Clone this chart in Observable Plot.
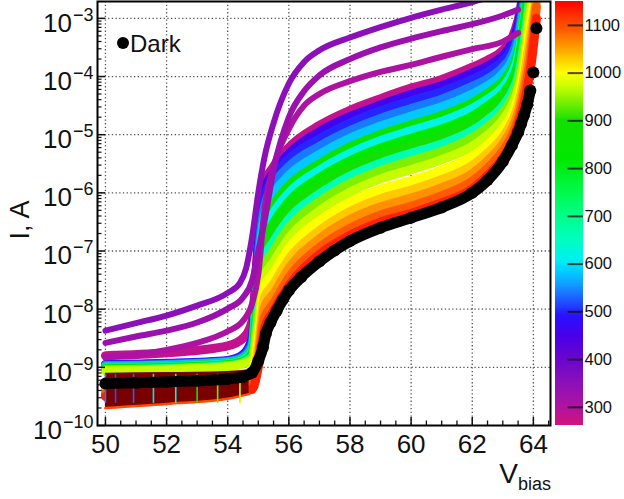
<!DOCTYPE html>
<html><head><meta charset="utf-8">
<script src="https://cdn.jsdelivr.net/npm/d3@7"></script>
<script src="https://cdn.jsdelivr.net/npm/@observablehq/plot@0.6"></script>
<style>
body{margin:0;background:#fff;}
#wrap{position:relative;width:624px;height:499px;overflow:hidden;background:#fff;font-family:"Liberation Sans",Arial,sans-serif;}
#wrap svg{position:absolute;top:0;}
</style></head><body><div id="wrap"></div>
<script>
// ---- axes / ticks ----
const xTicks = [50, 52, 54, 56, 58, 60, 62, 64];
const yTicks = [1e-10, 1e-9, 1e-8, 1e-7, 1e-6, 1e-5, 1e-4, 1e-3];
const colorTicks = [300, 400, 500, 600, 700, 800, 900, 1000, 1100];

// ---- wavelength palette (nm -> colour) ----
const paletteWl  = [262, 300, 350, 400, 450, 490, 520, 550, 585, 610, 650, 700, 760, 820, 900, 940, 975, 1000, 1030, 1060, 1090, 1120, 1150];
const paletteHex = ["#d4127c","#b0139f","#8c10b8","#6a06cc","#4800e8","#2a10ff","#2050ff","#1490ff","#00d0ff","#00f0f0","#00ffc0","#00ff88","#00f840","#00e800","#14e000","#80f000","#d0ff00","#ffff00","#ffc800","#ff9000","#ff5a00","#ff3000","#ff0000"];

// ---- illuminated curves: log10(I / A) at common bias voltages ----
const bandV = [50, 52, 54, 54.5, 54.8, 55.0, 55.2, 55.5, 56, 57, 58, 59, 60, 61, 62, 62.5, 63, 63.3, 63.5, 63.7, 63.9, 64.1];
const logI280  = [-8.80,-8.75,-8.63,-8.50,-8.20,-6.80,-5.85,-5.55,-5.22,-4.84,-4.58,-4.38,-4.20,-4.05,-3.84,-3.72,-3.55,-3.34,-3.03,-2.50,-2.30,-2.20];
const logI460  = [-8.95,-8.93,-8.88,-8.78,-8.50,-6.90,-5.97,-5.65,-5.33,-4.95,-4.69,-4.49,-4.31,-4.16,-3.94,-3.82,-3.64,-3.43,-3.12,-2.55,-2.30,-2.20];
const logI500  = [-8.96,-8.94,-8.89,-8.80,-8.55,-7.00,-6.10,-5.74,-5.42,-5.07,-4.80,-4.59,-4.42,-4.26,-4.05,-3.92,-3.73,-3.52,-3.22,-2.60,-2.30,-2.20];
const logI540  = [-8.97,-8.95,-8.90,-8.82,-8.60,-7.10,-6.25,-5.87,-5.55,-5.20,-4.93,-4.72,-4.55,-4.39,-4.17,-4.04,-3.84,-3.63,-3.33,-2.70,-2.30,-2.20];
const logI580  = [-8.98,-8.96,-8.91,-8.84,-8.65,-7.25,-6.40,-6.03,-5.70,-5.34,-5.06,-4.85,-4.68,-4.52,-4.30,-4.16,-3.95,-3.73,-3.44,-2.80,-2.30,-2.20];
const logI860  = [-9.00,-8.98,-8.93,-8.86,-8.70,-7.40,-6.58,-6.22,-5.88,-5.50,-5.21,-5.00,-4.83,-4.67,-4.45,-4.29,-4.08,-3.86,-3.57,-2.90,-2.30,-2.20];
const logI620  = [-9.01,-8.99,-8.94,-8.88,-8.73,-7.55,-6.70,-6.35,-6.00,-5.61,-5.32,-5.10,-4.93,-4.77,-4.55,-4.39,-4.18,-3.95,-3.66,-3.00,-2.30,-2.20];
const logI820  = [-9.02,-9.00,-8.95,-8.90,-8.76,-7.70,-6.85,-6.52,-6.15,-5.74,-5.45,-5.23,-5.06,-4.90,-4.68,-4.51,-4.29,-4.06,-3.78,-3.10,-2.30,-2.20];
const logI900  = [-9.03,-9.01,-8.96,-8.91,-8.79,-7.85,-7.00,-6.68,-6.30,-5.88,-5.58,-5.36,-5.19,-5.03,-4.80,-4.63,-4.40,-4.16,-3.89,-3.25,-2.50,-2.20];
const logI660  = [-9.04,-9.02,-8.97,-8.92,-8.82,-8.00,-7.15,-6.84,-6.45,-6.02,-5.71,-5.49,-5.32,-5.16,-4.93,-4.75,-4.51,-4.27,-4.00,-3.40,-2.60,-2.20];
const logI940  = [-9.05,-9.03,-8.98,-8.93,-8.85,-8.15,-7.30,-7.00,-6.60,-6.15,-5.84,-5.62,-5.45,-5.29,-5.05,-4.87,-4.62,-4.38,-4.10,-3.55,-2.70,-2.20];
const logI970  = [-9.06,-9.04,-8.99,-8.94,-8.88,-8.30,-7.45,-7.19,-6.78,-6.31,-5.99,-5.76,-5.60,-5.43,-5.20,-5.01,-4.75,-4.50,-4.23,-3.70,-2.90,-2.40];
const logI1000 = [-9.30,-9.26,-9.20,-9.15,-9.05,-8.50,-7.62,-7.38,-6.95,-6.48,-6.16,-5.94,-5.79,-5.61,-5.37,-5.18,-4.90,-4.65,-4.37,-3.85,-3.10,-2.50];
const logI1030 = [-9.36,-9.33,-9.30,-9.25,-9.15,-8.65,-7.80,-7.57,-7.14,-6.65,-6.32,-6.10,-5.95,-5.77,-5.53,-5.32,-5.04,-4.78,-4.50,-4.00,-3.30,-2.60];
const logI1060 = [-9.40,-9.37,-9.34,-9.30,-9.22,-8.80,-7.97,-7.74,-7.30,-6.79,-6.46,-6.24,-6.09,-5.91,-5.67,-5.45,-5.16,-4.90,-4.62,-4.15,-3.50,-2.70];
const logI1090 = [-9.45,-9.42,-9.38,-9.33,-9.30,-8.90,-8.15,-7.90,-7.46,-6.94,-6.61,-6.38,-6.23,-6.05,-5.80,-5.58,-5.28,-5.02,-4.73,-4.30,-3.70,-2.80];
const logI1130 = [-9.50,-9.47,-9.43,-9.40,-9.38,-9.00,-8.35,-8.03,-7.60,-7.06,-6.73,-6.50,-6.35,-6.17,-5.93,-5.70,-5.40,-5.12,-4.84,-4.45,-3.90,-3.00];

// ---- UV curves (well above the others) ----
const uvV350 = [50, 51, 52, 53, 54, 54.4, 54.6, 54.8, 55.0, 55.2, 55.5, 56, 56.5, 57, 58, 59, 60, 61, 62, 62.5];
const logI350 = [-8.37,-8.24,-8.11,-7.94,-7.72,-7.55,-7.30,-6.75,-6.00,-5.40,-4.80,-4.12,-3.75,-3.55,-3.33,-3.15,-2.99,-2.85,-2.72,-2.64];
const uvV = [50, 51, 52, 53, 54, 54.5, 54.8, 55.0, 55.2, 55.5, 56, 56.5, 57, 58, 59, 60, 61, 62, 63, 63.5];
const logI330 = [-8.58,-8.47,-8.37,-8.23,-7.99,-7.80,-7.50,-7.00,-6.50,-5.60,-4.70,-4.25,-3.98,-3.70,-3.50,-3.35,-3.22,-3.10,-2.95,-2.85];
const logI305 = [-8.83,-8.78,-8.70,-8.58,-8.38,-8.20,-7.90,-7.40,-6.30,-5.55,-4.90,-4.50,-4.30,-4.08,-3.92,-3.80,-3.66,-3.53,-3.40,-3.25];

// ---- low-bias error band of the long-wavelength curves ----
const errBandV  = [50, 52, 54, 54.7];
const errBandLo = [-9.70,-9.63,-9.54,-9.46];
const errBandHi = [-9.10,-9.09,-9.07,-9.04];
const errBarV   = [50.0, 50.33, 50.92, 51.57, 52.3, 53.0, 53.67, 54.4];
const errBarWl  = [540, 520, 530, 600, 620, 860, 930, 970];

// ---- dark current ----
const darkV   = [50,51,52,53,54,54.5,54.8,55.0,55.15,55.25,55.4,55.6,55.8,56,56.4,57,57.5,58,59,60,61,62,62.5,63,63.3,63.5,63.6,63.7,63.8,63.9,64.0,64.1];
const darkLog = [-9.28,-9.265,-9.25,-9.23,-9.20,-9.16,-9.09,-8.89,-8.66,-8.42,-8.23,-8.03,-7.84,-7.68,-7.45,-7.18,-6.99,-6.83,-6.60,-6.43,-6.25,-6.00,-5.78,-5.46,-5.18,-4.96,-4.81,-4.66,-4.48,-4.24,-3.93,-3.17];

// ---- build tables ----
const bandCurves = [[280,logI280],[460,logI460],[500,logI500],[540,logI540],[580,logI580],[860,logI860],[620,logI620],[820,logI820],[900,logI900],[660,logI660],[940,logI940],[970,logI970],[1000,logI1000],[1030,logI1030],[1060,logI1060],[1090,logI1090],[1130,logI1130]];
const bandRows = bandCurves.flatMap(([wl, arr]) => arr.map((l, i) => ({wl, V: bandV[i], I: 10 ** l})));
const uvRows = [
  ...logI305.map((l, i) => ({wl: 305, V: uvV[i], I: 10 ** l})),
  ...logI330.map((l, i) => ({wl: 330, V: uvV[i], I: 10 ** l})),
  ...logI350.map((l, i) => ({wl: 350, V: uvV350[i], I: 10 ** l}))
];
const errBandRows = errBandV.map((V, i) => ({V, lo: 10 ** errBandLo[i], hi: 10 ** errBandHi[i]}));
const errBarRows = errBarV.map((V, i) => ({V, wl: errBarWl[i], lo: 10 ** -9.62, hi: 10 ** -9.12}));
const darkRows = darkV.map((V, i) => ({V, I: 10 ** darkLog[i]}));

const colorScale = {type: "linear", domain: paletteWl, range: paletteHex, interpolate: "rgb"};

const xMinor = d3.range(50, 64.51, 0.5).filter(v => Math.abs(v / 2 - Math.round(v / 2)) > 1e-6);
const yMinor = d3.range(-10, -3).flatMap(e => d3.range(2, 10).map(k => k * 10 ** e));
const frameH = 499 - 1 - 74, frameW = 624 - 97 - 74;

const main = Plot.plot({
  width: 624, height: 499,
  marginLeft: 97, marginRight: 74, marginTop: 1, marginBottom: 74,
  style: {fontFamily: "Liberation Sans, Arial, sans-serif", fontSize: "26px", color: "#111", background: "transparent"},
  x: {domain: [49.74, 64.56], ticks: xTicks, tickSize: 0, tickPadding: 9, label: null},
  y: {type: "log", domain: [1e-10, 10 ** -2.71], ticks: yTicks, tickSize: 0, tickPadding: 4, label: null,
      tickFormat: d => String(Math.round(Math.log10(d)))},
  color: colorScale,
  marks: [
    Plot.ruleX(xTicks, {stroke: "#555", strokeWidth: 1.3, strokeDasharray: "1.3,2.4"}),
    Plot.ruleY(yTicks.slice(1), {stroke: "#555", strokeWidth: 1.3, strokeDasharray: "1.3,2.4"}),
    Plot.line(bandRows, {x: "V", y: "I", z: "wl", stroke: "wl", strokeWidth: 9, curve: "monotone-x", clip: true}),
    Plot.line(uvRows, {x: "V", y: "I", z: "wl", stroke: "wl", strokeWidth: 6, curve: "monotone-x", clip: true}),
    Plot.areaY(errBandRows, {x: "V", y1: "lo", y2: "hi", fill: "#7a0000", curve: "monotone-x"}),
    Plot.line(errBandRows, {x: "V", y: "lo", stroke: "#ff4a00", strokeWidth: 2.5, curve: "monotone-x"}),
    Plot.ruleX(errBarRows, {x: "V", y1: "lo", y2: "hi", stroke: "wl", strokeWidth: 1.6}),
    Plot.line(darkRows, {filter: d => d.V <= 63.9, x: "V", y: "I", stroke: "#000", strokeWidth: 11, curve: "monotone-x", clip: true}),
    Plot.dot(darkRows, {x: "V", y: "I", r: 6, fill: "#000", clip: true}),
    Plot.tickX(xTicks, {x: d => d, insetTop: frameH - 8, stroke: "#111", strokeWidth: 1.5}),
    Plot.tickX(xMinor, {x: d => d, insetTop: frameH - 4.5, stroke: "#111", strokeWidth: 1.3}),
    Plot.tickY(yTicks, {y: d => d, insetRight: frameW - 8, stroke: "#111", strokeWidth: 1.5}),
    Plot.tickY(yMinor, {y: d => d, insetRight: frameW - 4.5, stroke: "#111", strokeWidth: 1.2}),
    Plot.frame({stroke: "#000", strokeWidth: 2})
  ]
});

// superscript powers of ten on the y axis
main.querySelectorAll('g[aria-label="y-axis tick label"] text').forEach(t => {
  const e = t.textContent.trim().replace("\u2212", "-");
  const n = Math.abs(parseInt(e, 10));
  t.textContent = "";
  const ns = "http://www.w3.org/2000/svg";
  const a = document.createElementNS(ns, "tspan"); a.textContent = "10"; t.appendChild(a);
  const b = document.createElementNS(ns, "tspan"); b.textContent = "\u2212" + n;
  b.setAttribute("dy", "-11"); b.setAttribute("font-size", "18"); b.setAttribute("dx", "1"); t.appendChild(b);
  t.setAttribute("transform", (t.getAttribute("transform") || "") + " translate(0,5)");
});

const svg = d3.select(main);
// axis titles
svg.append("text").attr("transform", "translate(29,220) rotate(-90)").attr("text-anchor", "middle")
  .attr("font-size", 27).attr("fill", "#111").text("I, A");
const vt = svg.append("text").attr("x", 551).attr("y", 483).attr("text-anchor", "end").attr("fill", "#111");
vt.append("tspan").attr("font-size", 28).text("V");
vt.append("tspan").attr("font-size", 18).attr("dy", 7).text("bias");
// legend
svg.append("circle").attr("cx", 123).attr("cy", 43).attr("r", 6).attr("fill", "#000");
svg.append("text").attr("x", 130).attr("y", 52).attr("text-anchor", "start").attr("font-size", 24).attr("fill", "#111").text("Dark");

// colour bar
const cbSteps = d3.range(262, 1150, 2);
const cbar = Plot.plot({
  width: 71, height: 499, marginLeft: 2, marginRight: 41, marginTop: 1, marginBottom: 74,
  style: {fontFamily: "Liberation Sans, Arial, sans-serif", fontSize: "16.5px", color: "#111", background: "transparent"},
  x: {domain: [0, 1], axis: null},
  y: {domain: [262, 1150], ticks: colorTicks, tickSize: 0, tickPadding: 1, label: null, axis: "right", tickFormat: d => String(d)},
  color: colorScale,
  marks: [
    Plot.rect(cbSteps, {x1: 0, x2: 1, y1: d => d, y2: d => Math.min(d + 2.5, 1150), fill: d => d + 1, shapeRendering: "crispEdges"}),
    Plot.ruleY(colorTicks, {x1: 0.45, x2: 1, stroke: "#111", strokeOpacity: 0.75, strokeWidth: 2})
  ]
});
cbar.style.left = "553px";
main.style.left = "0px";
const wrap = document.getElementById("wrap");
wrap.appendChild(main);
wrap.appendChild(cbar);
</script></body></html>
